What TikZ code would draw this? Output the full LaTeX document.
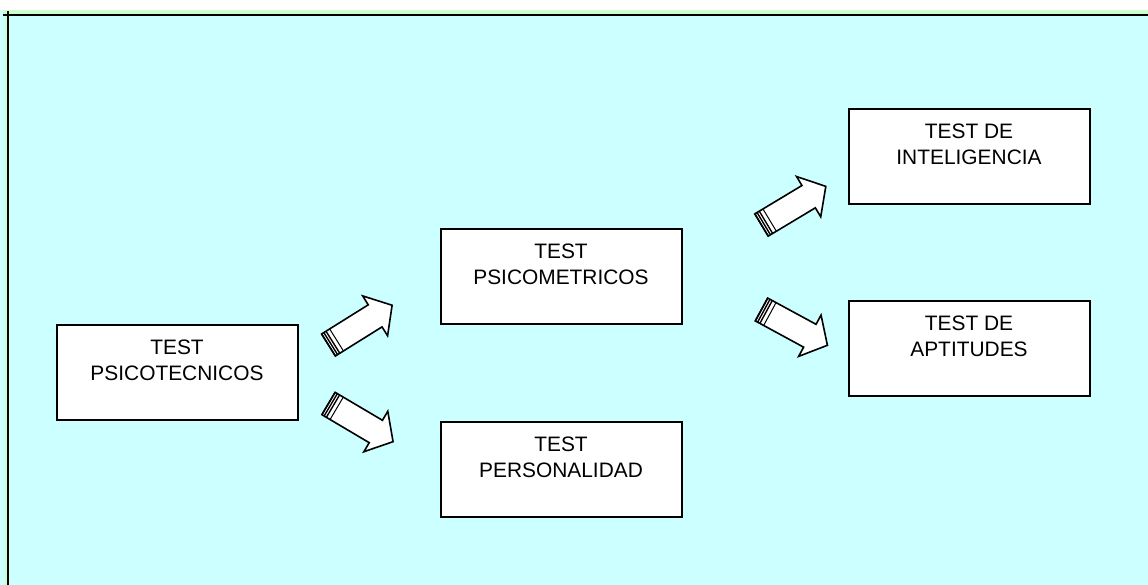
\documentclass[tikz,border=0pt]{standalone}
\usepackage{fontspec}
\setmainfont{Liberation Sans}
\usetikzlibrary{calc}

\definecolor{paper}{HTML}{CCFFFF}
\definecolor{rim}{HTML}{CCFFCC}

\tikzset{
  box/.style={draw=black, line width=2pt, fill=white, inner sep=0pt,
    minimum width=241pt, minimum height=95pt, anchor=north west},
  boxtext/.style={inner sep=0pt, anchor=north, align=center,
    font=\fontsize{20.9}{26}\selectfont},
  rimline/.style={line width=2pt, black},
  pics/blockarrow/.style={code={
    % white block arrow: shaft, then head
    \draw[line width=1.6pt, fill=white, line join=miter]
      (0,-13) -- (55,-13) -- (55,-23.5) -- (75,0) -- (55,23.5)
      -- (55,13) -- (0,13) -- cycle;
    % banded tail
    \foreach \s in {0,2.6,5.2}
      \draw[line width=1.4pt] (\s,-13) -- (\s,13);
    \draw[line width=1pt] (9.5,-13) -- (9.5,13);
  }}
}

\begin{document}
\begin{tikzpicture}[x=1pt, y=-1pt]
  \useasboundingbox (0,0) rectangle (1148,585);
  % page and frame
  \fill[white] (0,0) rectangle (1148,585);
  \fill[paper] (0,10) rectangle (1148,585);
  \fill[rim] (3,10) rectangle (1148,14.5);
  \fill[rim] (4.5,11) rectangle (6.5,585);
  \draw[rimline] (3,15.5) -- (1148,15.5);
  \draw[rimline] (7.5,11) -- (7.5,585);

  % boxes
  \node[box] (psicotec) at (55.5,324) {};
  \node[box] (psicomet) at (439.5,228) {};
  \node[box] (personal) at (439.5,421) {};
  \node[box] (intelig)  at (847.5,108.5) {};
  \node[box] (aptit)    at (847.5,300) {};

  % box labels
  \node[boxtext] (psicotec-t) at ($(psicotec.north)+(0,16)$) {TEST\\PSICOTECNICOS};
  \node[boxtext] (psicomet-t) at ($(psicomet.north)+(0,16)$) {TEST\\PSICOMETRICOS};
  \node[boxtext] (personal-t) at ($(personal.north)+(0,16)$) {TEST\\PERSONALIDAD};
  \node[boxtext] (intelig-t)  at ($(intelig.north)+(0,15.5)$) {TEST DE\\INTELIGENCIA};
  \node[boxtext] (aptit-t)    at ($(aptit.north)+(0,15.5)$) {TEST DE\\APTITUDES};

  % arrow tails, placed from the boxes they leave
  \coordinate (a1) at ($(psicotec.east)+(30,-27.5)$);
  \coordinate (a2) at ($(psicotec.east)+(30,31)$);
  \coordinate (a3) at ($(psicomet.east)+(79,-51.5)$);
  \coordinate (a4) at ($(psicomet.east)+(79,33)$);

  \pic[rotate=32]    at (a1) {blockarrow};
  \pic[rotate=-30.6] at (a2) {blockarrow};
  \pic[rotate=31]    at (a3) {blockarrow};
  \pic[rotate=-28.5] at (a4) {blockarrow};
\end{tikzpicture}
\end{document}
